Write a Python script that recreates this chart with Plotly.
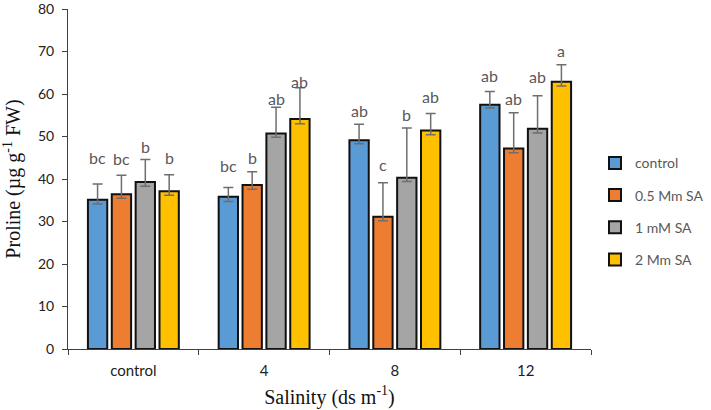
import plotly.graph_objects as go

salinity = ["control", "4", "8", "12"]
treatments = ["control", "0.5 Mm SA", "1 mM SA", "2 Mm SA"]
colors = ["#5B9BD5", "#ED7D31", "#A5A5A5", "#FFC000"]

# proline means per treatment, one value per salinity level
proline = [
    [35.1, 35.8, 49.1, 57.5],
    [36.4, 38.6, 31.1, 47.2],
    [39.3, 50.7, 40.3, 51.8],
    [37.1, 54.1, 51.4, 62.9],
]
err_plus = [
    [3.7, 2.2, 3.8, 3.1],
    [4.5, 3.1, 8.0, 8.4],
    [5.3, 6.2, 11.7, 7.8],
    [3.9, 7.4, 4.0, 4.0],
]
err_minus = [
    [1.0, 1.1, 0.8, 0.8],
    [0.9, 1.0, 0.9, 1.0],
    [1.0, 0.9, 0.9, 1.0],
    [0.9, 1.1, 1.0, 1.0],
]
letters = [
    ["bc", "bc", "ab", "ab"],
    ["bc", "b", "c", "ab"],
    ["b", "ab", "b", "ab"],
    ["b", "ab", "ab", "a"],
]
letter_y = [
    [45.0, 43.2, 56.1, 64.3],
    [44.8, 45.1, 43.4, 59.0],
    [47.6, 59.0, 55.1, 64.1],
    [45.1, 62.9, 59.3, 70.3],
]

BARGAP = 0.27
TEXT = "#595959"

fig = go.Figure()
for i, name in enumerate(treatments):
    fig.add_trace(
        go.Bar(
            x=salinity,
            y=proline[i],
            name=name,
            legendgroup=name,
            marker={"color": colors[i], "line": {"color": "#111111", "width": 2}},
            error_y={
                "type": "data",
                "symmetric": False,
                "array": err_plus[i],
                "arrayminus": err_minus[i],
                "color": "#6E6E6E",
                "thickness": 1.5,
                "width": 5,
            },
        )
    )

# significance letters above each bar
slot = (1 - BARGAP) / len(treatments)
for i in range(len(treatments)):
    for j in range(len(salinity)):
        fig.add_annotation(
            x=j + (i - 1.5) * slot,
            y=letter_y[i][j],
            xref="x",
            yref="y",
            text=letters[i][j],
            showarrow=False,
            yanchor="middle",
            font={"family": "Lato", "size": 16, "color": TEXT},
        )

fig.update_layout(
    width=711,
    height=410,
    barmode="group",
    bargap=BARGAP,
    bargroupgap=0.19,
    plot_bgcolor="white",
    paper_bgcolor="white",
    margin={"l": 68, "r": 120, "t": 9, "b": 61, "autoexpand": False},
    legend={
        "x": 1.0 + 4 / 523,
        "xanchor": "left",
        "y": 0.405,
        "yanchor": "middle",
        "tracegroupgap": 11,
        "font": {"family": "Lato", "size": 14, "color": TEXT},
    },
)
fig.update_xaxes(
    type="category",
    automargin=False,
    tickson="boundaries",
    ticks="outside",
    ticklen=5,
    tickcolor="#404040",
    ticklabelstandoff=8,
    showline=True,
    linecolor="#404040",
    linewidth=1,
    showgrid=False,
    tickfont={"family": "Lato", "size": 15, "color": "#222222"},
    title={
        "text": "Salinity (ds m<sup>-1</sup>)",
        "font": {"family": "Liberation Serif", "size": 20, "color": "#111111"},
        "standoff": 11,
    },
)
fig.update_yaxes(
    range=[0, 80],
    dtick=10,
    automargin=False,
    ticks="outside",
    ticklen=5,
    tickcolor="#404040",
    ticklabelstandoff=5,
    ticklabeloverflow="allow",
    showline=True,
    linecolor="#404040",
    linewidth=1,
    showgrid=False,
    zeroline=False,
    tickfont={"family": "Lato", "size": 14, "color": "#222222"},
    title={
        "text": "Proline (µg g<sup>-1</sup> FW)",
        "font": {"family": "Liberation Serif", "size": 20, "color": "#111111"},
        "standoff": 31,
    },
)

# drop the browser's default body margin so the figure sits at the page corner
fig.write_html(
    "out.html",
    config={"displayModeBar": False},
    post_script="document.body.style.margin = '0';",
)
